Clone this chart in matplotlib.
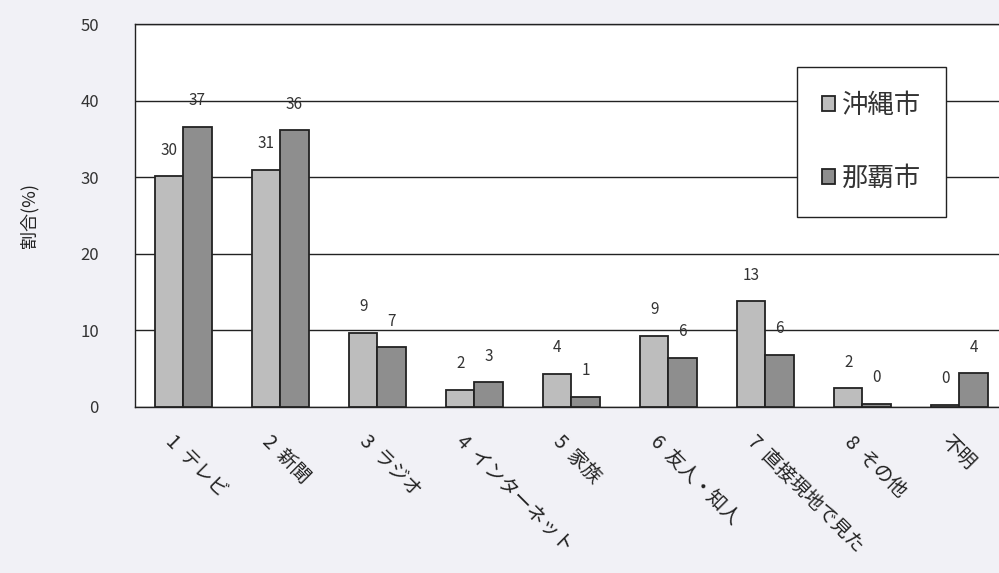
import numpy as np
import matplotlib
matplotlib.use('Agg')
import matplotlib.pyplot as plt

plt.rcParams['font.family'] = ['Noto Sans CJK JP', 'DejaVu Sans']

# data
categories = ['1  テレビ', '2  新聞', '3  ラジオ', '4  インターネット', '5  家族',
              '6  友人・知人', '7  直接現地で見た', '8  その他', '不明']
okinawa = [30.1, 31.0, 9.7, 2.2, 4.3, 9.3, 13.8, 2.4, 0.3]
naha = [36.6, 36.1, 7.8, 3.2, 1.3, 6.4, 6.8, 0.4, 4.4]
okinawa_labels = ['30', '31', '9', '2', '4', '9', '13', '2', '0']
naha_labels = ['37', '36', '7', '3', '1', '6', '6', '0', '4']
yticks = [0, 10, 20, 30, 40, 50]

bg = '#f1f1f6'
fig = plt.figure(figsize=(9.99, 5.73), dpi=100, facecolor=bg)
ax = fig.add_axes([0.135, 0.29, 0.874, 0.668])
ax.set_facecolor('white')

x = np.arange(len(categories))
w = 0.29
b1 = ax.bar(x - w / 2, okinawa, w, color='#bdbdbd', edgecolor='#222222', linewidth=1.3, label='沖縄市', zorder=3)
b2 = ax.bar(x + w / 2, naha, w, color='#8e8e8e', edgecolor='#222222', linewidth=1.3, label='那覇市', zorder=3)

for rect, t in zip(b1, okinawa_labels):
    ax.text(rect.get_x() + rect.get_width() / 2, rect.get_height() + 2.3, t,
            ha='center', va='bottom', fontsize=11, color='#333333')
for rect, t in zip(b2, naha_labels):
    ax.text(rect.get_x() + rect.get_width() / 2, rect.get_height() + 2.3, t,
            ha='center', va='bottom', fontsize=11, color='#333333')

ax.set_ylim(0, 50)
ax.set_xlim(-0.5, len(categories) - 0.5)
ax.set_yticks(yticks)
ax.set_yticklabels([str(v) for v in yticks], fontsize=12, color='#333333')
ax.tick_params(axis='y', length=0, pad=26)
ax.yaxis.grid(True, color='#222222', linewidth=1.0, zorder=0)
ax.set_axisbelow(True)

ax.set_xticks(x)
ax.set_xticklabels([])
ax.tick_params(axis='x', length=0)
for xi, lab in zip(x, categories):
    ax.text(xi - 0.08, -3.2, lab, rotation=-45, rotation_mode='anchor',
            ha='left', va='top', fontsize=14, color='#222222', clip_on=False)

for s in ax.spines.values():
    s.set_color('#222222')
    s.set_linewidth(1.0)

ax.set_ylabel('割合(%)', fontsize=13, color='#222222', labelpad=30)

leg = ax.legend(loc='upper left', bbox_to_anchor=(0.758, 0.888), fontsize=19,
                frameon=True, fancybox=False, edgecolor='#222222',
                handlelength=0.5, handleheight=0.5, handletextpad=0.25,
                labelspacing=1.75, borderpad=0.95, borderaxespad=0,
                labelcolor='#333333')
leg.get_frame().set_linewidth(1.0)
leg.get_frame().set_facecolor('white')
leg.get_frame().set_alpha(1.0)

fig.savefig('out.png', dpi=100, facecolor=bg)
